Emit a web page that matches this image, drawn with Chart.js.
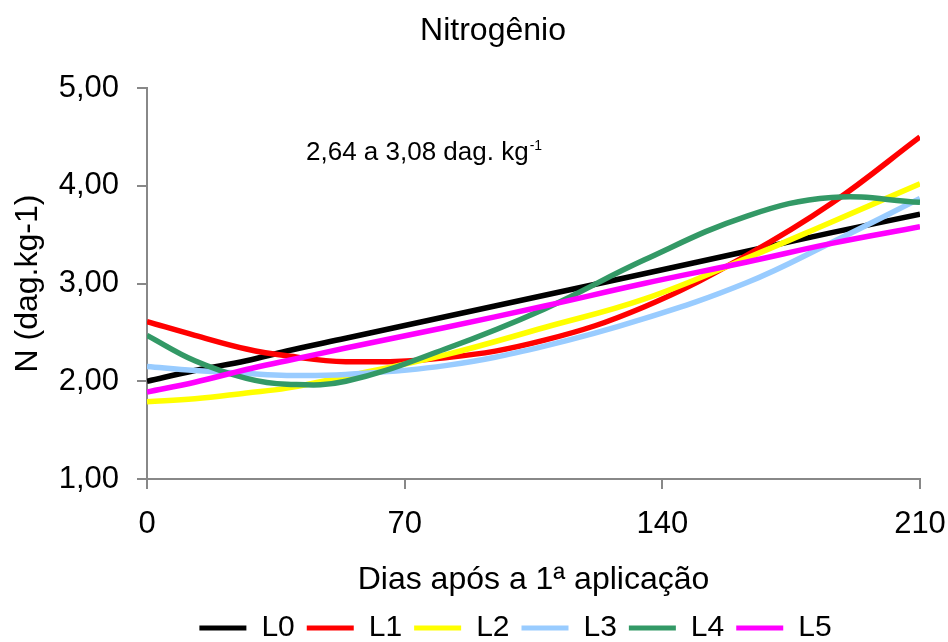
<!DOCTYPE html>
<html>
<head>
<meta charset="utf-8">
<title>Nitrogênio</title>
<script src="https://cdn.jsdelivr.net/npm/chart.js@4/dist/chart.umd.min.js"></script>
<style>
  html, body { margin: 0; padding: 0; background: #fff; }
  canvas { display: block; }
</style>
</head>
<body>
<canvas id="chart" width="948" height="642"></canvas>
<script>
// Days after the first application
const days = [0, 13, 27, 38, 54, 81, 108, 135, 163, 186, 210];

// N content (dag.kg-1) for each treatment
const L0 = [2.00, 2.11, 2.21, 2.31, 2.44, 2.66, 2.88, 3.10, 3.33, 3.52, 3.71];
const L1 = [2.61, 2.47, 2.33, 2.26, 2.20, 2.24, 2.42, 2.76, 3.29, 3.82, 4.50];
const L2 = [1.79, 1.82, 1.88, 1.93, 2.05, 2.27, 2.55, 2.84, 3.26, 3.63, 4.02];
const L3 = [2.15, 2.11, 2.08, 2.06, 2.07, 2.16, 2.36, 2.64, 3.01, 3.42, 3.87];
const L4 = [2.47, 2.21, 2.03, 1.97, 2.00, 2.33, 2.74, 3.24, 3.69, 3.88, 3.83];
const L5 = [1.89, 1.99, 2.12, 2.21, 2.34, 2.55, 2.77, 3.00, 3.22, 3.41, 3.58];

const seriesNames = ['L0', 'L1', 'L2', 'L3', 'L4', 'L5'];
const seriesValues = [L0, L1, L2, L3, L4, L5];
const seriesColors = ['#000000', '#ff0000', '#ffff00', '#99ccff', '#339966', '#ff00ff'];

const xTicks = [0, 70, 140, 210];
const yTicks = [1, 2, 3, 4, 5];

const FONT = "'Liberation Sans', Arial, Helvetica, sans-serif";
Chart.defaults.font.family = FONT;
Chart.defaults.color = '#000';

const datasets = seriesNames.map((name, i) => ({
  label: name,
  data: days.map((d, k) => ({ x: d, y: seriesValues[i][k] })),
  borderColor: seriesColors[i],
  backgroundColor: seriesColors[i],
  borderWidth: 5.5,
  pointRadius: 0,
  tension: 0.4,
  fill: false,
  // later series are painted over earlier ones
  order: seriesNames.length - 1 - i
}));

// Range note written inside the plot, with a superscript exponent
const rangeNote = {
  id: 'rangeNote',
  afterDraw(chart) {
    const { ctx, chartArea } = chart;
    ctx.save();
    ctx.fillStyle = '#000';
    ctx.textBaseline = 'alphabetic';
    ctx.textAlign = 'left';
    ctx.font = '26px ' + FONT;
    const main = '2,64 a 3,08 dag. kg';
    const x = chartArea.left + 159;
    const y = chartArea.top + 72;
    ctx.fillText(main, x, y);
    const w = ctx.measureText(main).width;
    ctx.font = '14px ' + FONT;
    ctx.fillText('-1', x + w + 1, y - 10);
    ctx.restore();
  }
};

// Fine placement of the title and the legend row
const blockNudge = {
  id: 'blockNudge',
  afterLayout(chart) {
    const l = chart.legend;
    if (l) {
      l.top += 11; l.bottom += 11;
      l.left -= 18; l.right -= 18;
    }
    const t = chart.titleBlock;
    if (t) {
      t.left += 33; t.right += 33;
    }
  }
};

new Chart(document.getElementById('chart'), {
  type: 'line',
  data: { datasets },
  plugins: [rangeNote, blockNudge],
  options: {
    responsive: false,
    animation: false,
    devicePixelRatio: 1,
    layout: { padding: { left: 0, right: 28, top: 0, bottom: 0 } },
    plugins: {
      tooltip: { enabled: false },
      title: {
        display: true,
        text: 'Nitrogênio',
        font: { size: 32, weight: 'normal', lineHeight: 1.2 },
        color: '#000',
        padding: { top: 12, bottom: 37.6 }
      },
      legend: {
        display: true,
        position: 'bottom',
        fullSize: false,
        labels: {
          font: { size: 30 },
          boxWidth: 47,
          boxHeight: 5,
          padding: 12,
          color: '#000',
          sort: (a, b) => a.datasetIndex - b.datasetIndex,
          generateLabels(chart) {
            return Chart.defaults.plugins.legend.labels.generateLabels(chart)
              .map(item => Object.assign(item, { lineWidth: 0 }));
          }
        }
      }
    },
    scales: {
      x: {
        type: 'linear',
        min: 0,
        max: 210,
        afterBuildTicks(scale) { scale.ticks = xTicks.map(v => ({ value: v })); },
        afterFit(scale) {
          scale.height = 111;
          scale.paddingRight = 28;
          scale.paddingLeft = 0;
        },
        ticks: {
          font: { size: 31 },
          color: '#000',
          padding: 17,
          maxRotation: 0,
          callback: v => String(v)
        },
        grid: {
          drawOnChartArea: false,
          drawTicks: true,
          tickLength: 10,
          color: '#888888',
          lineWidth: 2
        },
        border: { display: true, color: '#888888', width: 2 },
        title: {
          display: true,
          text: 'Dias após a 1ª aplicação',
          font: { size: 32, lineHeight: 1.2 },
          color: '#000',
          padding: { top: 0, bottom: -9 }
        }
      },
      y: {
        type: 'linear',
        min: 1,
        max: 5,
        afterBuildTicks(scale) { scale.ticks = yTicks.map(v => ({ value: v })); },
        afterFit(scale) { scale.width = 147; },
        ticks: {
          font: { size: 31 },
          color: '#000',
          padding: 18,
          callback: v => v.toFixed(2).replace('.', ',')
        },
        grid: {
          drawOnChartArea: false,
          drawTicks: true,
          tickLength: 10,
          color: '#888888',
          lineWidth: 2
        },
        border: { display: true, color: '#888888', width: 2 },
        title: {
          display: true,
          text: 'N (dag.kg-1)',
          font: { size: 32, lineHeight: 1.2 },
          color: '#000',
          padding: { top: 9, bottom: 0 }
        }
      }
    }
  }
});
</script>
</body>
</html>
